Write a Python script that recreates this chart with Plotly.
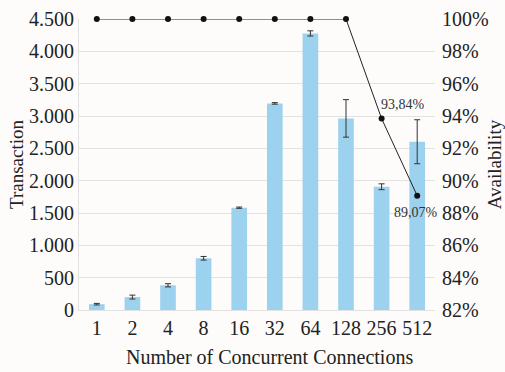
import plotly.graph_objects as go

# Concurrent connection levels (shown as evenly spaced categories)
connections = ["1", "2", "4", "8", "16", "32", "64", "128", "256", "512"]

# Mean transactions per level and error bar half-widths
transactions = [90, 200, 382, 800, 1582, 3195, 4277, 2963, 1906, 2602]
trans_err = [12, 30, 25, 28, 10, 12, 40, 290, 45, 340]

# Availability (%) per level
availability = [100, 100, 100, 100, 100, 100, 100, 100, 93.84, 89.07]

SERIF = "Liberation Serif"
BAR_COLOR = "#9dd2ee"
GRID = "#e2e2e2"

pos = list(range(len(connections)))

fig = go.Figure()

fig.add_trace(go.Bar(
    x=pos,
    y=transactions,
    width=0.44,
    marker=dict(color=BAR_COLOR, line=dict(width=0)),
    error_y=dict(type="data", array=trans_err, color="#333333",
                 thickness=1, width=3),
    yaxis="y",
    showlegend=False,
))

fig.add_trace(go.Scatter(
    x=pos,
    y=availability,
    mode="lines+markers",
    line=dict(color="#222222", width=1),
    marker=dict(color="#111111", size=6),
    yaxis="y2",
    cliponaxis=False,
    showlegend=False,
))

# Value labels for the points that drop below 100%
label_style = {
    8: dict(xanchor="left", yanchor="bottom", xshift=-3, yshift=5),
    9: dict(xanchor="right", yanchor="top", xshift=23, yshift=-7),
}
for i, st in label_style.items():
    fig.add_annotation(
        x=pos[i], y=availability[i], xref="x", yref="y2",
        text=f"{availability[i]:.2f}%".replace(".", ","),
        showarrow=False,
        font=dict(family=SERIF, size=14, color="#333333"),
        **st,
    )

# X-axis title, set slightly right of the plot centre
fig.add_annotation(
    x=0.534, y=-0.1615, xref="paper", yref="paper",
    xanchor="center", yanchor="middle", showarrow=False,
    text="Number of Concurrent Connections",
    font=dict(family=SERIF, size=20, color="#222222"),
)

fig.update_layout(
    width=505, height=372,
    margin=dict(l=79, r=70, t=19, b=62, autoexpand=False),
    paper_bgcolor="#fdfcfa",
    plot_bgcolor="#fdfcfa",
    separators=",.",
    font=dict(family=SERIF, size=20, color="#222222"),
    xaxis=dict(
        range=[-0.5, len(connections) - 0.5],
        tickmode="array", tickvals=pos, ticktext=connections,
        showgrid=False, zeroline=False, automargin=False,
        showline=True, linecolor=GRID, linewidth=1,
        ticks="", tickfont=dict(family=SERIF, size=20),
    ),
    yaxis=dict(
        range=[0, 4500], dtick=500, tickformat=",d",
        showgrid=True, gridcolor=GRID, gridwidth=1,
        showline=True, linecolor=GRID, linewidth=1, automargin=False,
        zeroline=False, ticks="", tickfont=dict(family=SERIF, size=20),
        title=dict(text="Transaction", font=dict(family=SERIF, size=19),
                   standoff=0),
    ),
    yaxis2=dict(
        range=[82, 100], dtick=2, ticksuffix="%",
        overlaying="y", side="right", automargin=False,
        showgrid=False, zeroline=False, showline=False,
        ticks="", ticklabelstandoff=6,
        tickfont=dict(family=SERIF, size=20),
        title=dict(text="Availability", font=dict(family=SERIF, size=19),
                   standoff=2),
    ),
)

fig.write_html("out.html")
